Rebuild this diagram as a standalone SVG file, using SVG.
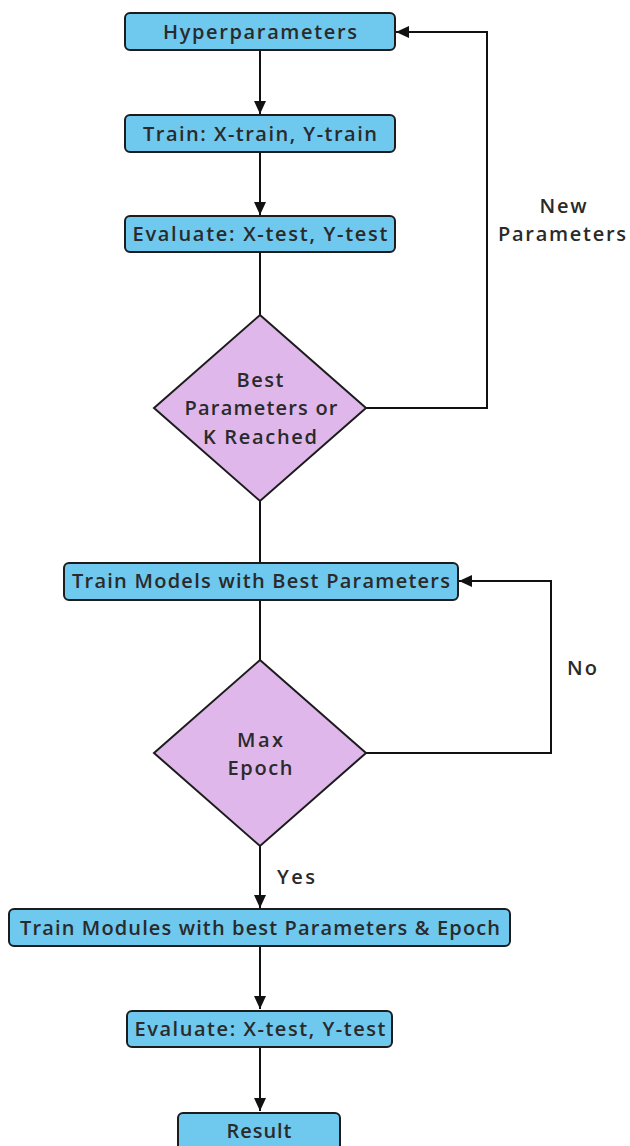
<svg xmlns="http://www.w3.org/2000/svg" width="630" height="1146" viewBox="0 0 630 1146">
<style>
.box{fill:#6fc8ed;stroke:#1c1c1c;stroke-width:2}
.dia{fill:#dfb7ea;stroke:#1c1c1c;stroke-width:2}
.t{font-family:"Open Sans","Liberation Sans",sans-serif;font-weight:600;font-size:20px;fill:#2a2a2a;text-anchor:middle}
.c{fill:none;stroke:#111;stroke-width:2}
</style>
<defs>
<marker id="ah" markerUnits="userSpaceOnUse" markerWidth="14" markerHeight="14" viewBox="0 0 14 14" refX="13" refY="7" orient="auto">
<path d="M0,1 L13,7 L0,13 Z" fill="#111"/>
</marker>
</defs>
<rect width="630" height="1146" fill="#fff"/>
<g id="connectors">
<line class="c" x1="260" y1="50" x2="260" y2="114" marker-end="url(#ah)"/>
<line class="c" x1="260" y1="152" x2="260" y2="215" marker-end="url(#ah)"/>
<line class="c" x1="260" y1="252" x2="260" y2="315"/>
<polyline class="c" points="366,408 487,408 487,32 396,32" marker-end="url(#ah)"/>
<line class="c" x1="260" y1="501" x2="260" y2="563"/>
<line class="c" x1="260" y1="600" x2="260" y2="660"/>
<polyline class="c" points="366,753 551,753 551,581 459,581" marker-end="url(#ah)"/>
<line class="c" x1="260" y1="846" x2="260" y2="908" marker-end="url(#ah)"/>
<line class="c" x1="260" y1="946" x2="260" y2="1009" marker-end="url(#ah)"/>
<line class="c" x1="260" y1="1047" x2="260" y2="1111" marker-end="url(#ah)"/>
<text class="t" x="563" y="213" textLength="47">New</text>
<text class="t" x="562" y="241" textLength="128">Parameters</text>
<text class="t" x="582" y="675" textLength="30">No</text>
<text class="t" x="296" y="884" textLength="38">Yes</text>
</g>
<g id="hyperparameters">
<rect class="box" x="125" y="13" width="270" height="37" rx="5"/>
<text class="t" x="260" y="38.5" textLength="194">Hyperparameters</text>
</g>
<g id="train">
<rect class="box" x="125" y="115" width="270" height="37" rx="5"/>
<text class="t" x="260" y="140.5" textLength="234">Train: X-train, Y-train</text>
</g>
<g id="evaluate1">
<rect class="box" x="125" y="216" width="270" height="36" rx="5"/>
<text class="t" x="260" y="241" textLength="255">Evaluate: X-test, Y-test</text>
</g>
<g id="decision1">
<polygon class="dia" points="260,315 366,408 260,501 154,408"/>
<text class="t" x="260" y="387" textLength="47">Best</text>
<text class="t" x="261" y="415" textLength="153">Parameters or</text>
<text class="t" x="260" y="444" textLength="114">K Reached</text>
</g>
<g id="train-best">
<rect class="box" x="64" y="563" width="394" height="37" rx="5"/>
<text class="t" x="261" y="588" textLength="378">Train Models with Best Parameters</text>
</g>
<g id="decision2">
<polygon class="dia" points="260,660 366,753 260,846 154,753"/>
<text class="t" x="260" y="747" textLength="46">Max</text>
<text class="t" x="260" y="775" textLength="65">Epoch</text>
</g>
<g id="train-modules">
<rect class="box" x="9" y="909" width="501" height="37" rx="5"/>
<text class="t" x="260" y="935" textLength="480">Train Modules with best Parameters &amp; Epoch</text>
</g>
<g id="evaluate2">
<rect class="box" x="127" y="1011" width="265" height="36" rx="5"/>
<text class="t" x="260" y="1036" textLength="251">Evaluate: X-test, Y-test</text>
</g>
<g id="result">
<rect class="box" x="178" y="1113" width="162" height="40" rx="5"/>
<text class="t" x="259" y="1138" textLength="65">Result</text>
</g>
</svg>
